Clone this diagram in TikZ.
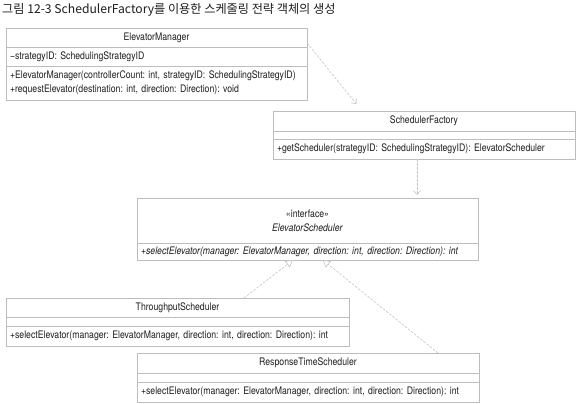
\documentclass[tikz,border=0pt]{standalone}
\usepackage{fontspec}
\setmainfont{TeX Gyre Heros}
\newfontfamily\umlfont[FakeStretch=0.84]{TeX Gyre Heros}
\newfontfamily\titlefont{Noto Sans CJK KR}
\usetikzlibrary{positioning,calc,arrows.meta,shadows}
\frenchspacing
\definecolor{umlgray}{HTML}{BDBDBD}
\definecolor{umlline}{HTML}{C4C4C4}
\definecolor{umltext}{HTML}{1E1E1E}
\tikzset{
  clshead/.style={draw=umlgray, fill=white, minimum width=#1, minimum height=19bp,
    inner sep=0pt, outer sep=0pt, text=umltext,
    font=\umlfont\fontsize{10.4}{14}\selectfont,
    drop shadow={shadow xshift=1.2bp, shadow yshift=-1.2bp, fill=black, opacity=0.12}},
  clspart/.style={draw=umlgray, fill=white, text width=#1, inner xsep=4bp,
    inner ysep=0pt, outer sep=0pt, align=left, text=umltext,
    font=\umlfont\fontsize{10.4}{14}\selectfont,
    drop shadow={shadow xshift=1.2bp, shadow yshift=-1.2bp, fill=black, opacity=0.12}},
  dep/.style={draw=umlline, line width=0.6pt, dash pattern=on 2.5bp off 1.5bp,
    -{Straight Barb[length=4bp, width=7bp, line width=0.6pt]}},
  real/.style={draw=umlline, line width=0.6pt, dash pattern=on 2.5bp off 1.5bp,
    -{Triangle[open, length=7bp, width=8bp, line width=0.6pt, fill=white]}},
  titletext/.style={font=\titlefont\fontsize{12.2}{13}\selectfont, text=umltext,
    inner sep=0pt, anchor=west},
}
\begin{document}
\begin{tikzpicture}[x=1bp, y=-1bp]
  \useasboundingbox[fill=white] (0,0) rectangle (576,403);
  \node[titletext] (title) at (2,10) {그림 12-3 SchedulerFactory를 이용한 스케줄링 전략 객체의 생성};

  \node[clshead=301bp, anchor=north west] (em) at (6,28) {ElevatorManager};
  \node[clspart=293bp, minimum height=19bp, below=0pt of em] (em-a)
    {−strategyID: SchedulingStrategyID};
  \node[clspart=293bp, minimum height=34bp, below=0pt of em-a] (em-m)
    {+ElevatorManager(controllerCount: int, strategyID: SchedulingStrategyID)\\
     +requestElevator(destination: int, direction: Direction): void};

  \node[clshead=302bp, minimum height=20bp, anchor=north west] (sf) at (273,111) {SchedulerFactory};
  \node[clspart=294bp, minimum height=8bp, below=0pt of sf] (sf-a) {};
  \node[clspart=294bp, minimum height=20bp, below=0pt of sf-a] (sf-m)
    {+getScheduler(strategyID: SchedulingStrategyID): ElevatorScheduler};

  \node[clshead=341bp, minimum height=45bp, align=center, anchor=north west] (es) at (137,198)
    {«interface»\\\textit{ElevatorScheduler}};
  \node[clspart=333bp, minimum height=17bp, below=0pt of es] (es-o)
    {\textit{+selectElevator(manager: ElevatorManager, direction: int, direction: Direction): int}};

  \node[clshead=343bp, anchor=north west] (tp) at (6,298) {ThroughputScheduler};
  \node[clspart=335bp, minimum height=9bp, below=0pt of tp] (tp-a) {};
  \node[clspart=335bp, minimum height=20bp, below=0pt of tp-a] (tp-m)
    {+selectElevator(manager: ElevatorManager, direction: int, direction: Direction): int};

  \node[clshead=342bp, minimum height=20bp, anchor=north west] (rt) at (137,353) {ResponseTimeScheduler};
  \node[clspart=334bp, minimum height=9bp, below=0pt of rt] (rt-a) {};
  \node[clspart=334bp, minimum height=20bp, below=0pt of rt-a] (rt-m)
    {+selectElevator(manager: ElevatorManager, direction: int, direction: Direction): int};

  \draw[dep, shorten >=9bp] ($(em.south east)+(0,-4)$)
    -- ($(sf.north west)!0.295!(sf.north east)$);
  \draw[dep, shorten >=3bp] ($(sf-m.south west)+(144,0)$) coordinate (sfout)
    -- (sfout |- es.north);
  \draw[real] ($(tp.north west)!0.694!(tp.north east)$)
    -- ($(es-o.south west)!0.457!(es-o.south east)$);
  \draw[real] ($(rt.north west)!0.88!(rt.north east)$)
    -- ($(es-o.south west)!0.545!(es-o.south east)$);
\end{tikzpicture}
\end{document}
